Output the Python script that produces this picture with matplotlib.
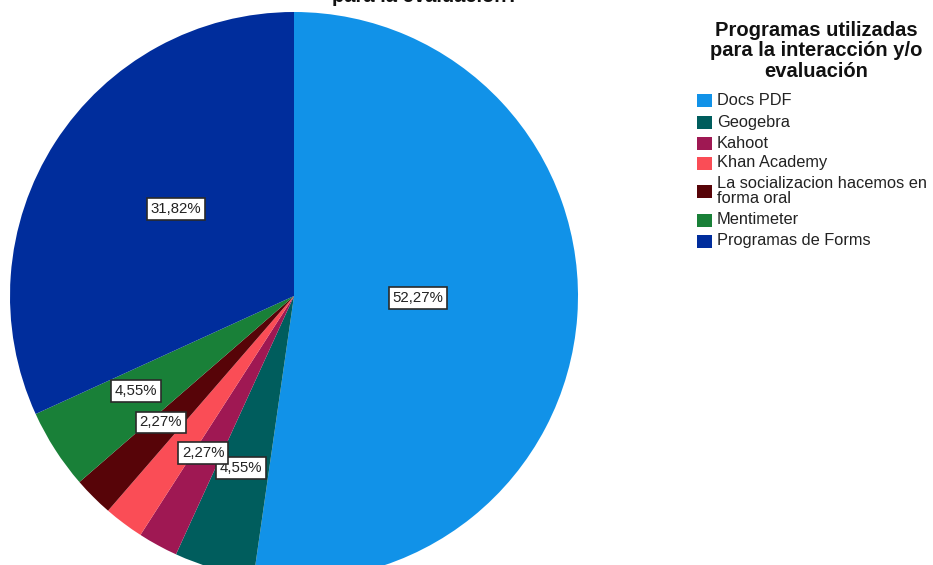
import matplotlib
matplotlib.use("Agg")
import matplotlib.pyplot as plt
from matplotlib.patches import Rectangle

plt.rcParams['font.family'] = ['Liberation Sans', 'DejaVu Sans']

# datos
categorias = ['Docs PDF', 'Geogebra', 'Kahoot', 'Khan Academy',
              'La socializacion hacemos en\nforma oral', 'Mentimeter',
              'Programas de Forms']
porcentajes = [52.27, 4.55, 2.27, 2.27, 2.27, 4.55, 31.82]
colores = ['#1192E8', '#005D5D', '#9F1853', '#FA4D56', '#570408', '#198038', '#002D9C']
# posicion de las etiquetas (None = etiqueta oculta)
pos_etiquetas = [(0.437, -0.007), (-0.187, -0.606), (-0.319, -0.553), None,
                 (-0.470, -0.445), (-0.556, -0.335), (-0.415, 0.306)]
titulo = 'para la evaluación?'
titulo_leyenda = 'Programas utilizadas\npara la interacción y/o\nevaluación'

W, H = 933, 565
fig = plt.figure(figsize=(W / 100, H / 100), dpi=100)

# pie: centro (294, 296) px, radio 284 px
cx, cy, r = 294, 296, 284
ax = fig.add_axes([(cx - r) / W, (H - cy - r) / H, 2 * r / W, 2 * r / H])
ax.pie(porcentajes, colors=colores, startangle=90, counterclock=False,
       radius=1, wedgeprops=dict(linewidth=0))
ax.set_xlim(-1, 1)
ax.set_ylim(-1, 1)
ax.set_aspect('equal')
ax.axis('off')

for p, pos in zip(porcentajes, pos_etiquetas):
    if pos is None:
        continue
    ax.text(pos[0], pos[1], ('%.2f%%' % p).replace('.', ','), ha='center', va='center',
            fontsize=10.8, color='#222222',
            bbox=dict(boxstyle='square,pad=0.25', fc='white', ec='#2a2a2a', lw=1.2))

fig.text(425 / W, 1 - (-3) / H, titulo, ha='center', va='center',
         fontsize=14.5, fontweight='bold', color='#111111')

# leyenda
fig.text(816 / W, 1 - 51 / H, titulo_leyenda, ha='center', va='center',
         fontsize=14.5, fontweight='bold', linespacing=1.1, color='#111111')

filas_y = [100, 122, 143, 163, 191, 220, 241]
for cat, col, yy in zip(categorias, colores, filas_y):
    fig.patches.append(Rectangle(((697) / W, 1 - (yy + 6.5) / H), 15 / W, 13 / H,
                                 transform=fig.transFigure, fc=col, ec='none'))
    fig.text(717 / W, 1 - yy / H, cat, ha='left', va='center',
             fontsize=11.8, linespacing=1.05, color='#222222')

fig.savefig('out.png', dpi=100)
